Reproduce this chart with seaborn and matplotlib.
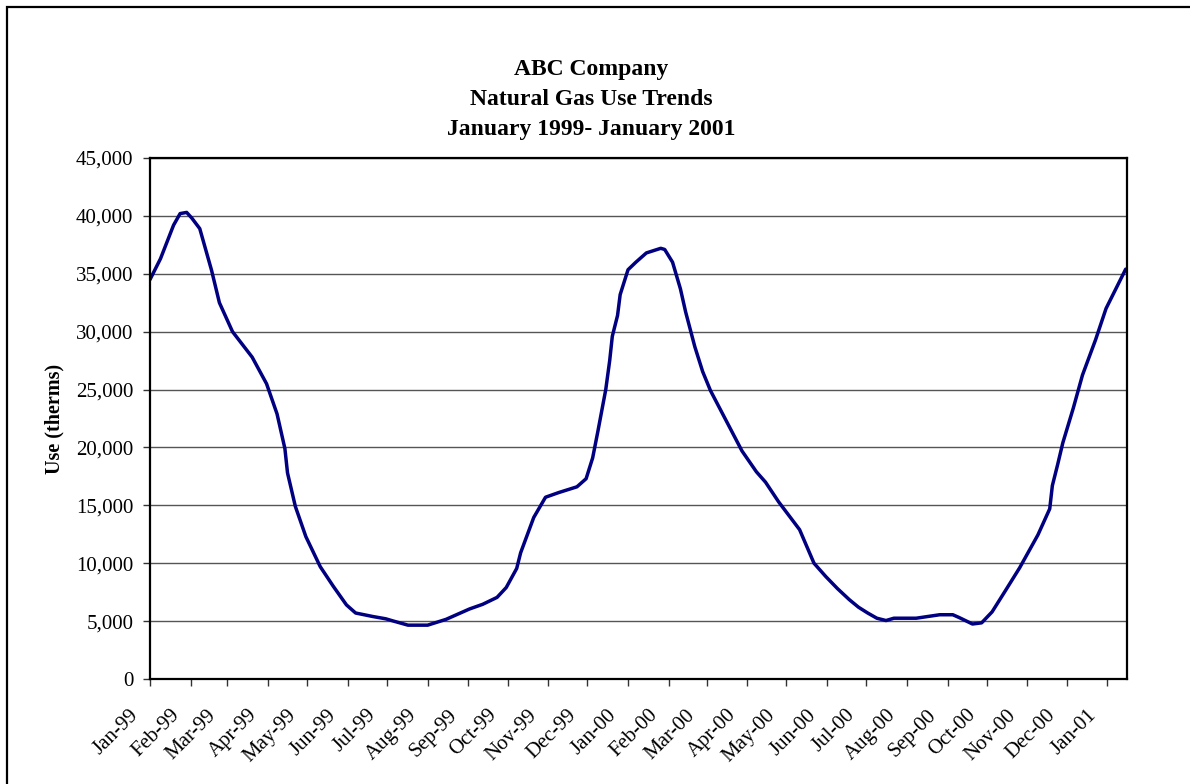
import matplotlib
matplotlib.use("Agg")
import matplotlib.pyplot as plt
import matplotlib.dates as mdates
import matplotlib.ticker as mticker
import matplotlib.transforms as mtransforms
from matplotlib.patches import Rectangle
import pandas as pd
import seaborn as sns

# Meter readings: date and natural gas use (therms)
dates = [
    "1999-01-01", "1999-01-09", "1999-01-19", "1999-01-24", "1999-01-29",
    "1999-02-02", "1999-02-08", "1999-02-17", "1999-02-20", "1999-02-23",
    "1999-03-05", "1999-03-20", "1999-03-31", "1999-04-08", "1999-04-14",
    "1999-04-16", "1999-04-22", "1999-04-30", "1999-05-11", "1999-05-21",
    "1999-05-31", "1999-06-07", "1999-06-20", "1999-06-30", "1999-07-06",
    "1999-07-17", "1999-08-01", "1999-08-15", "1999-09-02", "1999-09-12",
    "1999-09-23", "1999-09-30", "1999-10-08", "1999-10-11", "1999-10-21",
    "1999-10-30", "1999-11-09", "1999-11-23", "1999-11-30", "1999-12-05",
    "1999-12-09", "1999-12-15", "1999-12-18", "1999-12-20", "1999-12-24",
    "1999-12-26", "2000-01-01", "2000-01-07", "2000-01-15", "2000-01-26",
    "2000-01-29", "2000-02-04", "2000-02-10", "2000-02-14", "2000-02-21",
    "2000-02-27", "2000-03-04", "2000-03-16", "2000-03-28", "2000-04-08",
    "2000-04-15", "2000-04-25", "2000-05-11", "2000-05-22", "2000-05-31",
    "2000-06-09", "2000-06-18", "2000-06-25", "2000-07-02", "2000-07-09",
    "2000-07-16", "2000-07-22", "2000-08-08", "2000-08-26", "2000-09-05",
    "2000-09-10", "2000-09-20", "2000-09-27", "2000-10-05", "2000-10-15",
    "2000-10-26", "2000-11-09", "2000-11-18", "2000-11-20", "2000-11-24",
    "2000-11-28", "2000-12-06", "2000-12-13", "2000-12-23", "2000-12-31",
    "2001-01-15",
]
use_therms = [
    34500, 36300, 39200, 40200, 40300,
    39800, 38900, 35300, 33900, 32500,
    30000, 27800, 25500, 22900, 19900,
    17800, 14900, 12300, 9700, 8000,
    6400, 5700, 5400, 5200, 5000,
    4650, 4650, 5150, 6050, 6450,
    7050, 7900, 9550, 10900, 13950,
    15700, 16100, 16600, 17300, 19100,
    21400, 25000, 27500, 29600, 31400,
    33200, 35350, 36000, 36800, 37200,
    37100, 36000, 33700, 31700, 28700,
    26550, 24900, 22300, 19700, 17900,
    17000, 15300, 12900, 10000, 8850,
    7800, 6850, 6200, 5700, 5250,
    5050, 5250, 5250, 5550, 5550,
    5300, 4750, 4850, 5800, 7600,
    9600, 12450, 14700, 16700, 18500,
    20400, 23400, 26250, 29300, 32000,
    35400,
]

title_lines = ["ABC Company", "Natural Gas Use Trends", "January 1999- January 2001"]
y_label = "Use (therms)"

df = pd.DataFrame({"date": pd.to_datetime(dates), "use": use_therms})

sns.set_theme(style="white")
plt.rcParams["font.family"] = ["Liberation Serif", "DejaVu Serif"]
plt.rcParams["text.color"] = "black"
plt.rcParams["axes.labelcolor"] = "black"

fig = plt.figure(figsize=(11.9, 7.84), dpi=100)
ax = fig.add_axes([150 / 1190, 105 / 784, 977 / 1190, 521 / 784])

sns.lineplot(data=df, x="date", y="use", ax=ax, color="#000080",
             linewidth=2.5, estimator=None)
for ln in ax.lines:
    ln.set_solid_joinstyle("round")
    ln.set_solid_capstyle("round")

ax.set_xlim(pd.Timestamp("1999-01-01"), pd.Timestamp("2001-01-16"))
ax.set_ylim(0, 45000)
ax.yaxis.set_major_locator(mticker.MultipleLocator(5000))
ax.yaxis.set_major_formatter(mticker.FuncFormatter(lambda v, p: f"{v:,.0f}"))
ax.xaxis.set_major_locator(mdates.MonthLocator())
ax.xaxis.set_major_formatter(mdates.DateFormatter("%b-%y"))

ax.grid(axis="y", color="#555555", linewidth=1.0)
ax.set_axisbelow(True)
for s in ax.spines.values():
    s.set_visible(True)
    s.set_color("black")
    s.set_linewidth(1.6)

ax.tick_params(axis="both", which="major", direction="out", length=5,
               width=1.0, color="#333333", labelsize=15, labelcolor="black",
               left=True, bottom=True)
ax.tick_params(axis="y", pad=7)
ax.tick_params(axis="x", pad=19)
shift_left = mtransforms.ScaledTranslation(-14 / 100, 0, fig.dpi_scale_trans)
for lab in ax.get_xticklabels():
    lab.set_rotation(45)
    lab.set_ha("right")
    lab.set_va("center")
    lab.set_rotation_mode("anchor")
    lab.set_transform(lab.get_transform() + shift_left)

ax.set_xlabel("")
ax.set_ylabel(y_label, fontsize=14.5, fontweight="bold", va="center")
ax.yaxis.set_label_coords((54 - 150) / 977, 0.5)

for i, line in enumerate(title_lines):
    fig.text(591 / 1190, 1 - (70 + 29.5 * i) / 784, line, ha="center",
             va="center", fontsize=17, fontweight="bold", color="black")

# outer chart frame
fig.patches.append(Rectangle((7 / 1190, -0.05), 1.2, 1 - 7 / 784 + 0.05,
                             transform=fig.transFigure, fill=False,
                             edgecolor="black", linewidth=1.6))

fig.savefig("out.png", dpi=100)
